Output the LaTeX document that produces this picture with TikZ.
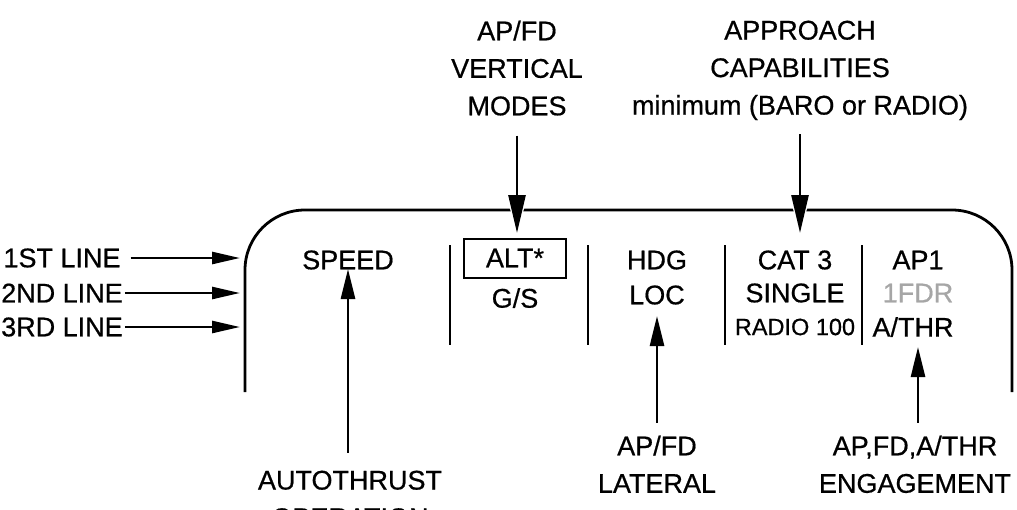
\documentclass[tikz,border=0pt]{standalone}
\usepackage{fontspec}
\setmainfont{Liberation Sans}[UprightFeatures={FakeBold=0.6}]
\usetikzlibrary{arrows.meta, positioning}
\tikzset{
  lbl/.style={font=\fontsize{27}{37.5}\selectfont, align=center, inner sep=0pt},
  smalllbl/.style={font=\fontsize{23.5}{30}\selectfont, inner sep=0pt},
  modebox/.style={lbl, draw, line width=2pt, minimum width=102pt, minimum height=39pt},
  frameline/.style={line width=2.8pt, rounded corners=60pt},
  divider/.style={line width=2.6pt},
  sidearrow/.style={-{Triangle[length=28pt,width=12pt]}, line width=2.6pt},
  uparrow/.style={-{Triangle[length=30pt,width=14pt]}, line width=2.6pt},
  downarrow/.style={-{Triangle[length=38pt,width=17pt]}, line width=2.6pt,
    preaction={draw=white, line width=6pt, -{Triangle[length=42pt,width=23pt]}}}
}

\begin{document}
\begin{tikzpicture}[x=1pt, y=-1pt]
  \useasboundingbox (0,0) rectangle (1017,509);

  % display frame and column separators
  \draw[frameline] (245,392) -- (245,210) -- (1012,210) -- (1012,392);
  \foreach \x in {450,588,725,862}
    \draw[divider] (\x,245) -- (\x,345);

  % line labels on the left
  \node[lbl] (l1) at (62,258) {1ST LINE};
  \node[lbl] (l2) at (62,293) {2ND LINE};
  \node[lbl] (l3) at (62,327) {3RD LINE};
  \coordinate (f1) at (240,258);
  \coordinate (f2) at (240,293);
  \coordinate (f3) at (240,327);
  \draw[sidearrow] ([xshift=10pt]l1.east) -- (f1);
  \draw[sidearrow] ([xshift=2pt]l2.east) -- (f2);
  \draw[sidearrow] ([xshift=2pt]l3.east) -- (f3);

  % columns of the mode display
  \node[lbl] (speed) at (348,260) {SPEED};
  \node[modebox] (alt) at (515,258) {ALT*};
  \node[lbl] (gs) at (515,298) {G/S};
  \node[lbl] (hdg) at (657,260) {HDG};
  \node[lbl] (loc) at (657,295) {LOC};
  \node[lbl] (cat) at (795,260) {CAT 3};
  \node[lbl] (single) at (795,293) {SINGLE};
  \node[smalllbl] (radio) at (795,327) {RADIO 100};
  \node[lbl] (ap1) at (918,260) {AP1};
  \node[lbl, text=black!35] (fdr) at (918,293) {1FDR};
  \node[lbl] (athr) at (913,327) {A/THR};

  % captions above
  \node[lbl, anchor=north] (vert) at (517,20.5) {AP/FD\\VERTICAL\\MODES};
  \node[lbl, anchor=north] (appr) at (800,20.5) {APPROACH\\CAPABILITIES\\minimum (BARO or RADIO)};
  \coordinate (vtip) at (517,233);
  \coordinate (atip) at (800,233);
  \draw[downarrow] ([yshift=-20pt]vert.south) -- (vtip);
  \draw[downarrow] ([yshift=-14pt]appr.south) -- (atip);

  % captions below
  \node[lbl, anchor=north] (autothr) at (350,470.5) {AUTOTHRUST\\OPERATION};
  \node[lbl, anchor=north] (lat) at (657,435.5) {AP/FD\\LATERAL\\MODES};
  \node[lbl, anchor=north] (engage) at (915,435.5) {AP,FD,A/THR\\ENGAGEMENT};
  \coordinate (spdtip) at (348,269);
  \coordinate (loctip) at (657,316);
  \coordinate (athrtip) at (918,347);
  \draw[uparrow, shorten <=18pt] (autothr.north -| spdtip) -- (spdtip);
  \draw[uparrow, shorten <=13pt] (lat.north) -- (loctip);
  \draw[uparrow, shorten <=13pt] (engage.north -| athrtip) -- (athrtip);
\end{tikzpicture}
\end{document}
